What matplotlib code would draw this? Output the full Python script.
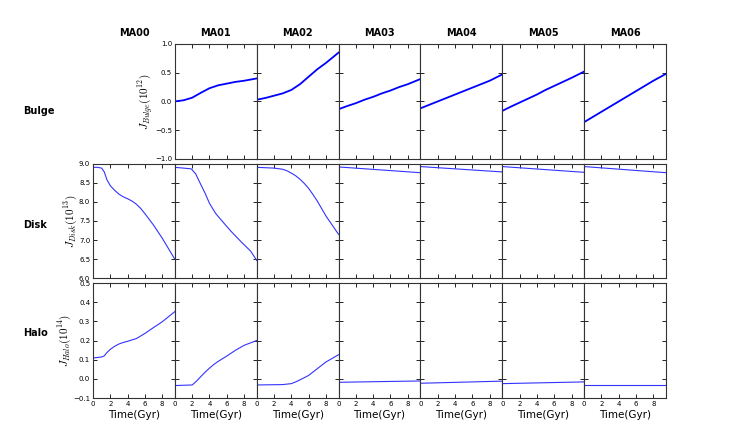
import matplotlib
matplotlib.use('Agg')
import matplotlib.pyplot as plt

plt.rcParams['mathtext.fontset'] = 'cm'
plt.rcParams['xtick.direction'] = 'in'
plt.rcParams['ytick.direction'] = 'in'
plt.rcParams['xtick.top'] = True
plt.rcParams['ytick.right'] = True

models = ['MA00', 'MA01', 'MA02', 'MA03', 'MA04', 'MA05', 'MA06']
rows = ['Bulge', 'Disk', 'Halo']
ylabels = [r'$J_{Bulge}(10^{12})$', r'$J_{Disk}(10^{13})$', r'$J_{Halo}(10^{14})$']
t_end = 9.46

# bulge (MA00 has no bulge)
t_bulge = [0, 1, 2, 3, 4, 5, 6, 7, 8, 9.46]
bulge_ma01 = [0.0, 0.02, 0.065, 0.15, 0.23, 0.28, 0.31, 0.34, 0.36, 0.40]
bulge_ma02 = [0.03, 0.06, 0.10, 0.14, 0.20, 0.30, 0.43, 0.56, 0.67, 0.85]
bulge_ma03 = [-0.135, -0.08, -0.03, 0.03, 0.08, 0.14, 0.19, 0.25, 0.30, 0.39]
bulge_ma04 = [-0.12, -0.06, 0.0, 0.06, 0.12, 0.18, 0.24, 0.30, 0.36, 0.47]
bulge_ma05 = [-0.165, -0.09, -0.02, 0.05, 0.12, 0.20, 0.27, 0.34, 0.41, 0.52]
bulge_ma06 = [-0.36, -0.27, -0.18, -0.09, 0.0, 0.09, 0.18, 0.27, 0.36, 0.48]

# disk
t_disk_ma00 = [0, 0.5, 1, 1.3, 1.6, 2, 2.5, 3, 3.5, 4, 4.5, 5, 5.5, 6, 7, 8, 9.46]
disk_ma00 = [8.9, 8.9, 8.88, 8.78, 8.58, 8.42, 8.30, 8.20, 8.13, 8.08, 8.02, 7.94, 7.83, 7.69, 7.39, 7.05, 6.5]
t_disk_ma01 = [0, 1, 1.9, 2.4, 3, 3.5, 4, 4.7, 5.3, 6.45, 7.6, 8.77, 9.46]
disk_ma01 = [8.9, 8.88, 8.86, 8.73, 8.45, 8.22, 7.96, 7.7, 7.54, 7.24, 6.97, 6.71, 6.47]
t_disk_ma02 = [0, 2, 3, 3.5, 4, 4.5, 5, 5.5, 6, 6.5, 7, 8, 9.46]
disk_ma02 = [8.9, 8.88, 8.85, 8.81, 8.75, 8.68, 8.59, 8.48, 8.35, 8.19, 8.02, 7.63, 7.15]
t_flat = [0, 9.46]
disk_ma03 = [8.91, 8.76]
disk_ma04 = [8.92, 8.78]
disk_ma05 = [8.92, 8.77]
disk_ma06 = [8.92, 8.76]

# halo
t_halo_ma00 = [0, 1, 1.3, 1.6, 2, 2.5, 3, 3.5, 4, 5, 6, 7, 8, 9.46]
halo_ma00 = [0.109, 0.114, 0.12, 0.137, 0.154, 0.170, 0.182, 0.19, 0.196, 0.21, 0.237, 0.268, 0.298, 0.351]
t_halo_ma01 = [0, 2, 2.5, 3, 3.5, 4, 4.5, 5, 6, 7, 8, 9.46]
halo_ma01 = [-0.035, -0.032, -0.012, 0.012, 0.035, 0.056, 0.075, 0.091, 0.119, 0.149, 0.175, 0.2]
t_halo_ma02 = [0, 3, 4, 4.5, 5, 5.5, 6, 7, 8, 9.46]
halo_ma02 = [-0.032, -0.03, -0.025, -0.016, -0.005, 0.006, 0.018, 0.053, 0.088, 0.126]
halo_ma03 = [-0.018, -0.011]
halo_ma04 = [-0.023, -0.012]
halo_ma05 = [-0.025, -0.016]
halo_ma06 = [-0.03, -0.03]

curves = [
    [None, (t_bulge, bulge_ma01), (t_bulge, bulge_ma02), (t_bulge, bulge_ma03),
     (t_bulge, bulge_ma04), (t_bulge, bulge_ma05), (t_bulge, bulge_ma06)],
    [(t_disk_ma00, disk_ma00), (t_disk_ma01, disk_ma01), (t_disk_ma02, disk_ma02),
     (t_flat, disk_ma03), (t_flat, disk_ma04), (t_flat, disk_ma05), (t_flat, disk_ma06)],
    [(t_halo_ma00, halo_ma00), (t_halo_ma01, halo_ma01), (t_halo_ma02, halo_ma02),
     (t_flat, halo_ma03), (t_flat, halo_ma04), (t_flat, halo_ma05), (t_flat, halo_ma06)],
]
ylims = [(-1.0, 1.0), (6.0, 9.0), (-0.1, 0.5)]
ysteps = [0.5, 0.5, 0.1]

fig, axes = plt.subplots(3, 7, figsize=(7.4, 4.44), dpi=100)
fig.subplots_adjust(left=0.1257, right=0.9, top=0.901, bottom=0.1036, wspace=0, hspace=0.04)

for r in range(3):
    for c in range(7):
        ax = axes[r][c]
        if r == 0:
            ax.set_title(models[c], fontsize=7, fontweight='bold', pad=6)
        if curves[r][c] is None:
            ax.axis('off')
            continue
        t, y = curves[r][c]
        if r == 0:
            ax.plot(t, y, color='#0000ff', lw=1.3)
        else:
            ax.plot(t, y, color='#3333ff', lw=0.8)
        ax.set_xlim(0, t_end)
        ax.set_ylim(*ylims[r])
        ax.set_xticks([0, 2, 4, 6, 8])
        lo, hi = ylims[r]
        n = int(round((hi - lo) / ysteps[r]))
        ax.set_yticks([lo + i * ysteps[r] for i in range(n + 1)])
        ax.tick_params(labelsize=5, length=3, width=0.6, pad=2)
        for s in ax.spines.values():
            s.set_linewidth(0.8)
            s.set_color('#333333')
        first = (c == 1) if r == 0 else (c == 0)
        if first:
            ax.set_ylabel(ylabels[r], fontsize=8, labelpad=0)
        else:
            ax.set_yticklabels([])
        if r == 2:
            ax.set_xlabel('Time(Gyr)', fontsize=7.5, labelpad=2)
        else:
            ax.set_xticklabels([])

row_y = [111, 225, 333]
for r in range(3):
    fig.text(23 / 740, 1 - row_y[r] / 444, rows[r], fontsize=7, fontweight='bold', ha='left', va='center')

fig.savefig('out.png', dpi=100, facecolor='white')
